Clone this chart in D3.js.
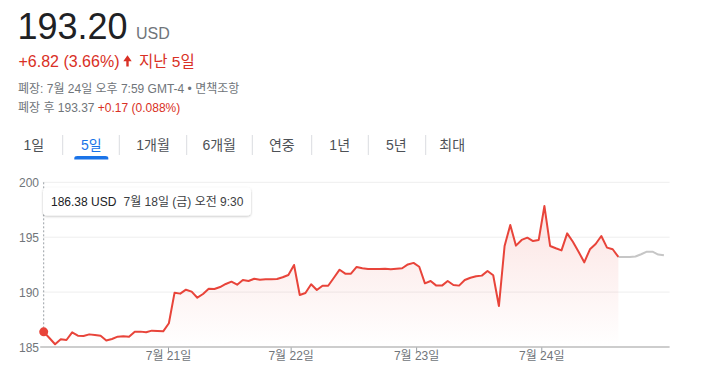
<!DOCTYPE html>
<html><head><meta charset="utf-8">
<script src="https://cdn.jsdelivr.net/npm/d3@7"></script>
<style>
html,body{margin:0;padding:0;background:#fff;}
svg{display:block;font-family:"Liberation Sans",Arial,"Noto Sans CJK KR",sans-serif;}
</style></head>
<body>
<svg id="c" width="710" height="382"></svg>
<script>
// ---- data ----
const priceText = "193.20";
const currency = "USD";
const changeText = "+6.82 (3.66%)";
const periodText = "지난 5일";
const closeInfo = "폐장: 7월 24일 오후 7:59 GMT-4 • 면책조항";
const afterLabel = "폐장 후 193.37 ";
const afterChange = "+0.17 (0.088%)";
const tabs = ["1일","5일","1개월","6개월","연중","1년","5년","최대"];
const activeTab = "5일";
const yTicks = [185, 190, 195, 200];
const xTickLabels = ["7월 21일","7월 22일","7월 23일","7월 24일"];
const xTickIndex = [21.85, 43.4, 65.45, 87.45];
const tooltipPrice = "186.38 USD";
const tooltipTime = "7월 18일 (금) 오전 9:30";
// regular-session prices (index 0..101)
const sessionPrices = [
186.38,185.82,185.25,185.70,185.64,186.34,186.03,186.00,186.15,186.10,186.03,185.60,185.73,185.94,185.97,185.94,186.40,186.40,186.34,186.49,186.46,186.43,187.16,
189.95,189.86,190.22,190.04,189.49,189.83,190.31,190.28,190.46,190.74,190.95,190.67,191.10,191.01,191.22,191.13,191.16,191.16,191.19,191.35,191.56,192.47,
189.74,189.92,190.71,190.19,190.58,190.58,191.31,192.04,191.68,191.68,192.29,192.17,192.10,192.10,192.10,192.13,192.08,192.13,192.17,192.52,192.66,192.31,
190.80,191.01,190.59,190.59,191.01,190.65,190.59,191.10,191.31,191.44,191.50,191.92,191.53,188.73,194.20,196.11,194.23,194.75,194.96,194.65,194.75,197.84,
194.20,193.99,193.80,195.35,194.59,193.68,192.71,193.90,194.38,195.11,194.05,193.90,193.20
];
// after-hours prices (index 101..109)
const afterPrices = [193.20,193.20,193.20,193.24,193.45,193.68,193.68,193.42,193.35];
const afterStart = 101;

// ---- drawing ----
const svg = d3.select("#c");
const red = "#d93025", lineRed = "#e8443a", gray = "#70757a";

// header
svg.append("text").attr("x",17.5).attr("y",39).attr("font-size",36).attr("fill","#202124").text(priceText);
svg.append("text").attr("x",136).attr("y",38.5).attr("font-size",16).attr("fill",gray).text(currency);
svg.append("text").attr("x",18.5).attr("y",66.5).attr("font-size",16).attr("fill",red).text(changeText);
svg.append("path").attr("fill",red)
  .attr("d","M123.3,61.2 L127.5,55.3 L131.7,61.2 L128.7,61.2 L128.7,66.5 L126.3,66.5 L126.3,61.2 Z");
svg.append("text").attr("x",139).attr("y",66.5).attr("font-size",15.5).attr("fill",red).text(periodText);
svg.append("text").attr("x",18).attr("y",93).attr("font-size",12).attr("fill",gray).text(closeInfo);
const l4 = svg.append("text").attr("x",18).attr("y",112).attr("font-size",12).attr("fill",gray);
l4.append("tspan").text(afterLabel);
l4.append("tspan").attr("fill",red).text(afterChange);

// tabs
const tabCenters = [33.8, 91.3, 153, 219.2, 281.8, 339.7, 396.3, 452.2];
const sepX = [62.7, 119.3, 186.7, 252.3, 311.7, 368.3, 425.7];
svg.selectAll(".tab").data(tabs).join("text").attr("class","tab")
  .attr("x",(d,i)=>tabCenters[i]).attr("y",150).attr("text-anchor","middle").attr("font-size",14)
  .attr("fill",d=>d===activeTab?"#1a73e8":"#4d5156").text(d=>d);
svg.selectAll(".sep").data(sepX).join("line").attr("class","sep")
  .attr("x1",d=>d).attr("x2",d=>d).attr("y1",135).attr("y2",155).attr("stroke","#dadce0").attr("stroke-width",1);
const ai = tabs.indexOf(activeTab);
svg.append("path").attr("fill","#1a73e8")
  .attr("d",`M${tabCenters[ai]-17},159.5 L${tabCenters[ai]-17},158 Q${tabCenters[ai]-17},156 ${tabCenters[ai]-14},156 L${tabCenters[ai]+14},156 Q${tabCenters[ai]+17},156 ${tabCenters[ai]+17},158 L${tabCenters[ai]+17},159.5 Z`);

// chart scales
const x = d3.scaleLinear().domain([0,110]).range([43.7, 669.6]);
const y = d3.scaleLinear().domain([185,200]).range([347, 182.3]);

// gridlines
svg.selectAll(".grid").data(yTicks.filter(v=>v>185)).join("line").attr("class","grid")
  .attr("x1",x(0)-1).attr("x2",x(110)).attr("y1",d=>y(d)).attr("y2",d=>y(d))
  .attr("stroke","#eeeeee").attr("stroke-width",1);

// y axis labels
const yAxis = d3.axisLeft(y).tickValues(yTicks).tickSize(0).tickPadding(0);
const gy = svg.append("g").attr("transform","translate(39,0)").call(yAxis);
gy.select(".domain").remove();
gy.selectAll("text").attr("font-size",12).attr("fill",gray).attr("font-family","Liberation Sans, Arial, sans-serif").attr("dy","0.35em");

// area gradient
const defs = svg.append("defs");
const grad = defs.append("linearGradient").attr("id","ag").attr("gradientUnits","userSpaceOnUse")
  .attr("x1",0).attr("x2",0).attr("y1",y(198)).attr("y2",y(185));
grad.append("stop").attr("offset",0).attr("stop-color","#e8443a").attr("stop-opacity",0.15);
grad.append("stop").attr("offset",1).attr("stop-color","#e8443a").attr("stop-opacity",0);
const sess = sessionPrices.map((v,i)=>({i,v}));
const aft = afterPrices.map((v,k)=>({i:afterStart+k,v}));
svg.append("path").datum(sess).attr("fill","url(#ag)")
  .attr("d",d3.area().x(d=>x(d.i)).y0(y(185)).y1(d=>y(d.v)));

// x axis
const xAxis = d3.axisBottom(x).tickValues(xTickIndex).tickSize(5).tickFormat((d,i)=>xTickLabels[i]);
const gx = svg.append("g").attr("transform",`translate(0,${y(185)})`).call(xAxis);
gx.select(".domain").remove();
gx.selectAll("line").attr("stroke","#9aa0a6");
gx.selectAll("text").attr("font-size",12).attr("fill",gray).attr("dy","0.45em")
  .attr("font-family","Liberation Sans, Arial, 'Noto Sans CJK KR', sans-serif");
svg.append("line").attr("x1",x(0)-3.5).attr("x2",x(110)).attr("y1",y(185)).attr("y2",y(185))
  .attr("stroke","#bdbdbd").attr("stroke-width",1.6);

// lines
svg.append("path").datum(aft).attr("fill","none").attr("stroke","#c6c6c6").attr("stroke-width",2)
  .attr("stroke-linejoin","round").attr("d",d3.line().x(d=>x(d.i)).y(d=>y(d.v)));
svg.append("path").datum(sess).attr("fill","none").attr("stroke",lineRed).attr("stroke-width",2)
  .attr("stroke-linejoin","round").attr("d",d3.line().x(d=>x(d.i)).y(d=>y(d.v)));

// hover marker
svg.append("line").attr("x1",x(0)).attr("x2",x(0)).attr("y1",y(200)).attr("y2",y(sessionPrices[0]))
  .attr("stroke","#9aa0a6").attr("stroke-width",1).attr("stroke-dasharray","2,2");
svg.append("circle").attr("cx",x(0)).attr("cy",y(sessionPrices[0])).attr("r",4.5).attr("fill",lineRed);

// tooltip
const f = defs.append("filter").attr("id","sh").attr("x","-10%").attr("y","-30%").attr("width","120%").attr("height","170%");
f.append("feDropShadow").attr("dx",0).attr("dy",1).attr("stdDeviation",1.3).attr("flood-color","#000").attr("flood-opacity",0.25);
svg.append("rect").attr("x",43).attr("y",187.5).attr("width",208).attr("height",28).attr("rx",4)
  .attr("fill","#fff").attr("filter","url(#sh)");
svg.append("text").attr("x",51).attr("y",206).attr("font-size",12).attr("fill","#202124").text(tooltipPrice);
svg.append("text").attr("x",123.5).attr("y",206).attr("font-size",12).attr("fill","#3c4043").text(tooltipTime);
</script>
</body></html>
